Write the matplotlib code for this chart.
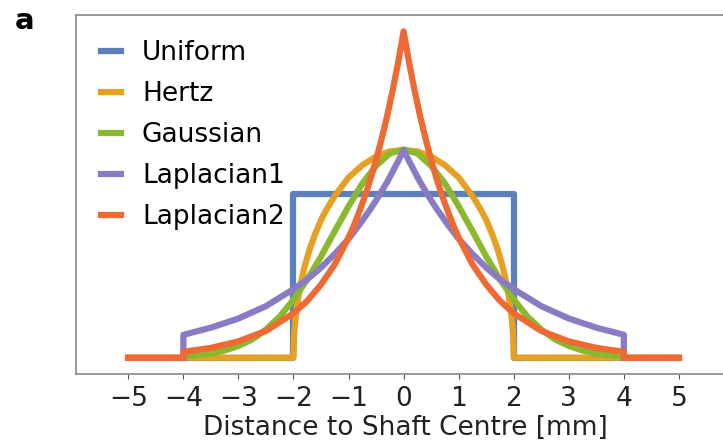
import matplotlib.pyplot as plt

# values (pressure density vs distance, mm)
x_uniform = [-5, -2, -2, 2, 2, 5]
y_uniform = [0, 0, 0.25, 0.25, 0, 0]

x_hertz = [-5, -2, -1.99, -1.98, -1.95, -1.9, -1.85, -1.8, -1.7, -1.6, -1.5, -1.4, -1.25, -1, -0.75, -0.5, -0.25, 0,
           0.25, 0.5, 0.75, 1, 1.25, 1.4, 1.5, 1.6, 1.7, 1.8, 1.85, 1.9, 1.95, 1.98, 1.99, 2, 5]
y_hertz = [0, 0, 0.032, 0.045, 0.071, 0.099, 0.121, 0.139, 0.168, 0.191, 0.211, 0.227, 0.248, 0.276, 0.295, 0.308, 0.316, 0.318,
           0.316, 0.308, 0.295, 0.276, 0.248, 0.227, 0.211, 0.191, 0.168, 0.139, 0.121, 0.099, 0.071, 0.045, 0.032, 0, 0]

x_gauss = [-4, -3.75, -3.5, -3.25, -3, -2.75, -2.5, -2.25, -2, -1.75, -1.5, -1.25, -1, -0.75, -0.5, -0.25, 0,
           0.25, 0.5, 0.75, 1, 1.25, 1.5, 1.75, 2, 2.25, 2.5, 2.75, 3, 3.25, 3.5, 3.75, 4]
y_gauss = [0.002, 0.004, 0.006, 0.011, 0.018, 0.028, 0.043, 0.063, 0.089, 0.120, 0.155, 0.194, 0.232, 0.267, 0.294, 0.313, 0.319,
           0.313, 0.294, 0.267, 0.232, 0.194, 0.155, 0.120, 0.089, 0.063, 0.043, 0.028, 0.018, 0.011, 0.006, 0.004, 0.002]

x_lap1 = [-4, -4, -3.5, -3, -2.5, -2, -1.75, -1.5, -1.25, -1, -0.9, -0.8, -0.7, -0.6, -0.5, -0.4, -0.3, -0.2, -0.1, 0,
          0.1, 0.2, 0.3, 0.4, 0.5, 0.6, 0.7, 0.8, 0.9, 1, 1.25, 1.5, 1.75, 2, 2.5, 3, 3.5, 4, 4]
y_lap1 = [0, 0.035, 0.046, 0.060, 0.079, 0.105, 0.120, 0.138, 0.159, 0.182, 0.193, 0.204, 0.216, 0.228, 0.241, 0.255, 0.269, 0.285, 0.301, 0.318,
          0.301, 0.285, 0.269, 0.255, 0.241, 0.228, 0.216, 0.204, 0.193, 0.182, 0.159, 0.138, 0.120, 0.105, 0.079, 0.060, 0.046, 0.035, 0]

x_lap2 = [-5, -4, -4, -3.5, -3, -2.5, -2, -1.75, -1.5, -1.25, -1, -0.9, -0.8, -0.7, -0.6, -0.5, -0.4, -0.3, -0.2, -0.1, 0,
          0.1, 0.2, 0.3, 0.4, 0.5, 0.6, 0.7, 0.8, 0.9, 1, 1.25, 1.5, 1.75, 2, 2.5, 3, 3.5, 4, 4, 5]
y_lap2 = [0, 0, 0.009, 0.015, 0.025, 0.041, 0.068, 0.087, 0.112, 0.143, 0.184, 0.203, 0.225, 0.248, 0.274, 0.303, 0.335, 0.370, 0.409, 0.452, 0.5,
          0.452, 0.409, 0.370, 0.335, 0.303, 0.274, 0.248, 0.225, 0.203, 0.184, 0.143, 0.112, 0.087, 0.068, 0.041, 0.025, 0.015, 0.009, 0, 0]

ticks = [-5, -4, -3, -2, -1, 0, 1, 2, 3, 4, 5]

fig = plt.figure(figsize=(7.23, 4.44), dpi=100)
ax = fig.add_axes([76 / 723, 1 - 374 / 444, 658 / 723, 359 / 444])

lw = 4.5
ax.plot(x_uniform, y_uniform, color='#5b7fbf', lw=lw, label='Uniform')
ax.plot(x_hertz, y_hertz, color='#e6a125', lw=lw, label='Hertz')
ax.plot(x_gauss, y_gauss, color='#8ab82e', lw=lw, label='Gaussian')
ax.plot(x_lap1, y_lap1, color='#8a7bc4', lw=lw, label='Laplacian1')
ax.plot(x_lap2, y_lap2, color='#ef6a32', lw=lw, label='Laplacian2')

ax.set_xlim(-5.95, 6.0)
ax.set_ylim(-0.025, 0.525)
ax.set_yticks([])
ax.set_xticks(ticks)
ax.tick_params(axis='x', labelsize=19, color='#555555', labelcolor='#222222', pad=5)
ax.set_xlabel('Distance to Shaft Centre [mm]', fontsize=19, color='#222222', labelpad=2)
for s in ax.spines.values():
    s.set_color('#888888')
    s.set_linewidth(1.2)

ax.legend(loc='upper left', fontsize=19, frameon=False, handlelength=0.75,
          handletextpad=0.8, labelspacing=0.57, borderaxespad=0.55)

fig.text(0.02, 0.935, 'a', fontsize=21, fontweight='bold')

fig.savefig('out.png', dpi=100)
